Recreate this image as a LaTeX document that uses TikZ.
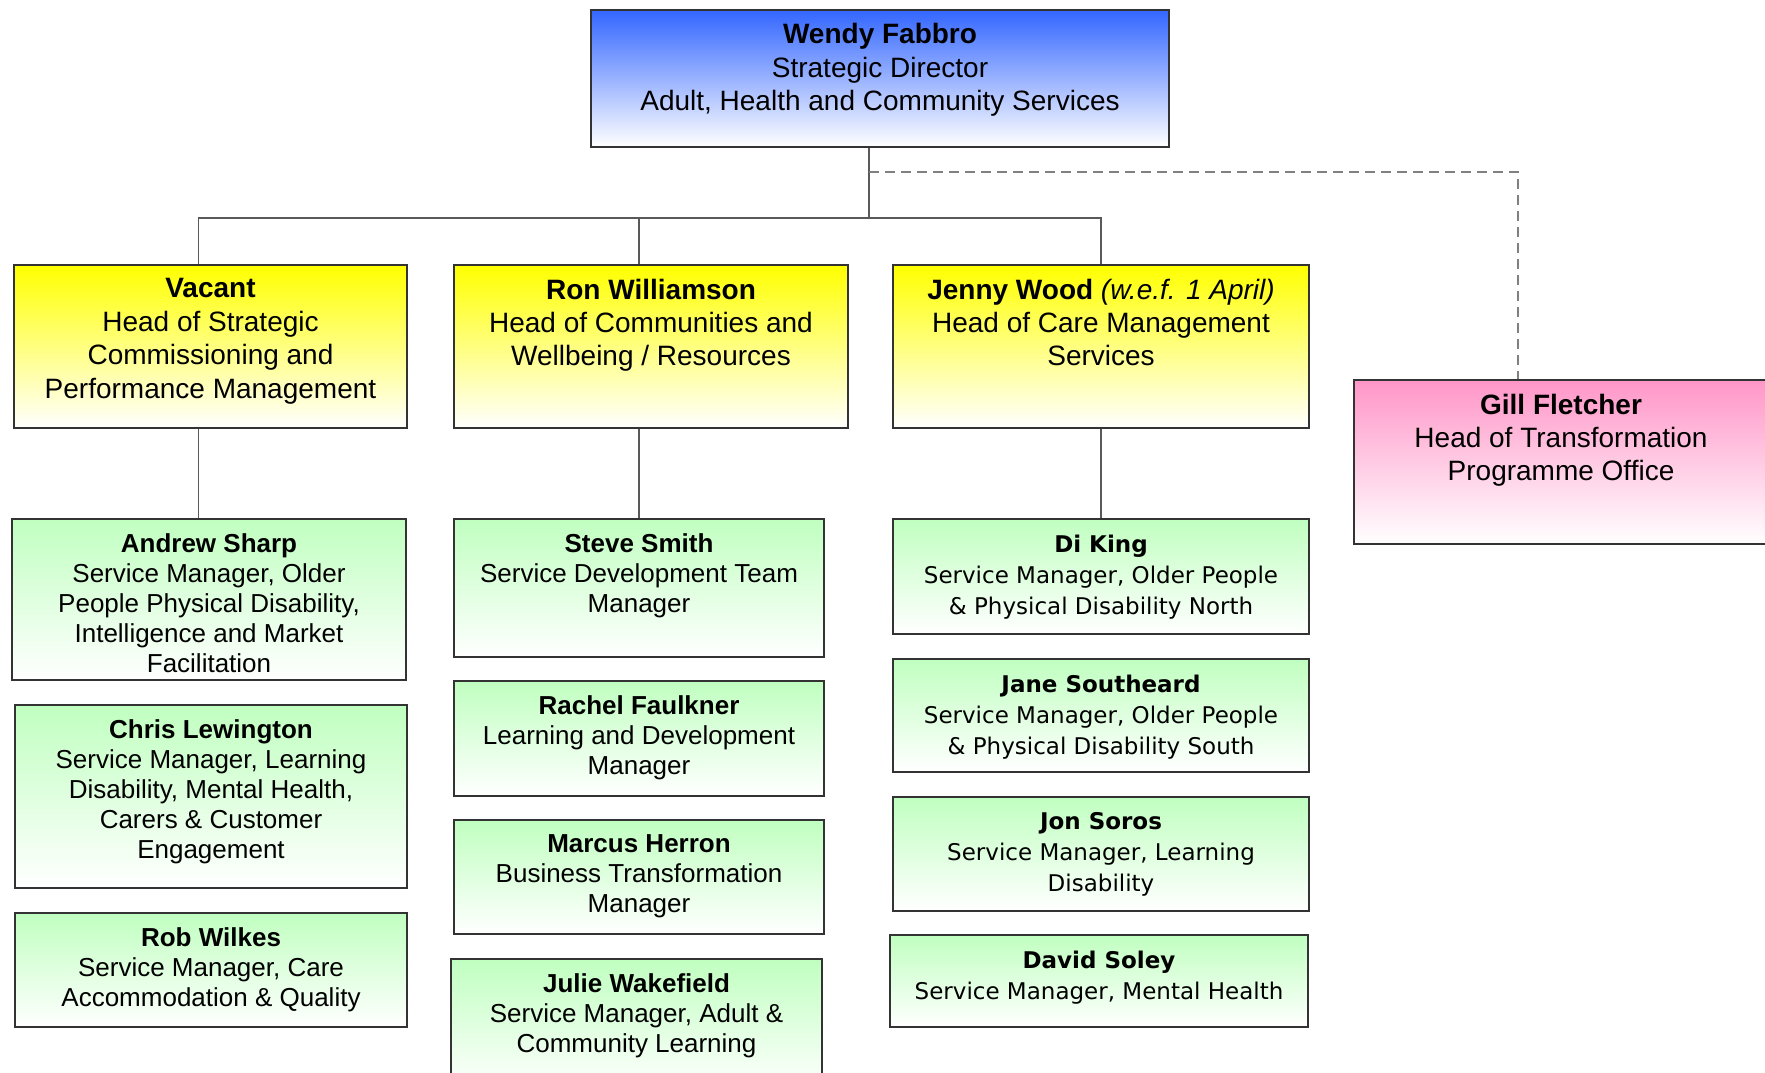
\documentclass[tikz,border=0pt]{standalone}
\usepackage{fontspec}
\setmainfont{Liberation Sans}
\newfontfamily\widefont{DejaVu Sans}
\usetikzlibrary{positioning,fit}

\definecolor{topblue}{RGB}{51,102,255}
\definecolor{headyellow}{RGB}{255,255,0}
\definecolor{greentop}{RGB}{192,255,192}
\definecolor{pinktop}{RGB}{255,150,200}

\tikzset{
  box/.style={draw=black!80, line width=0.7pt, inner sep=0pt},
  topbox/.style={box, top color=topblue, bottom color=white},
  headbox/.style={box, top color=headyellow, bottom color=white},
  pinkbox/.style={box, top color=pinktop, bottom color=white},
  greenbox/.style={box, top color=greentop, bottom color=white},
  txt/.style={inner sep=0pt, align=center, font=\fontsize{14pt}{16.7pt}\selectfont},
  smalltxt/.style={txt, font=\fontsize{13pt}{15pt}\selectfont},
  widetxt/.style={txt, font=\widefont\fontsize{11.5pt}{15.5pt}\selectfont},
  conn/.style={draw=black!65, line width=0.75pt},
  dashconn/.style={draw=black!50, line width=1pt, dash pattern=on 5pt off 3pt},
}

\begin{document}
\begin{tikzpicture}[x=0.5pt, y=-0.5pt]

    \useasboundingbox (0,0) rectangle (1765,1072);

    % Director
    \node[topbox, fit={(591,10) (1169,147)}] (wendy) {};
    \node[txt, below=7pt of wendy.north] (wendyT) {\textbf{Wendy Fabbro}\\Strategic Director\\Adult, Health and Community Services};

    % Heads of service
    \node[headbox, fit={(14,265) (407,428)}] (vacant) {};
    \node[txt, below=7pt of vacant.north] (vacantT) {\textbf{Vacant}\\Head of Strategic\\Commissioning and\\Performance Management};

    \node[headbox, fit={(454,265) (848,428)}] (ron) {};
    \node[txt, below=7pt of ron.north] (ronT) {\textbf{Ron Williamson}\\Head of Communities and\\Wellbeing / Resources};

    \node[headbox, fit={(893,265) (1309,428)}] (jenny) {};
    \node[txt, below=7pt of jenny.north] (jennyT) {\textbf{Jenny Wood} \textit{(w.e.f. 1 April)}\\Head of Care Management\\Services};

    \node[pinkbox, fit={(1354,380) (1768,544)}] (gill) {};
    \node[txt, below=7pt of gill.north] (gillT) {\textbf{Gill Fletcher}\\Head of Transformation\\Programme Office};

    % Service managers, first column
    \node[greenbox, fit={(12,519) (406,680)}] (andrew) {};
    \node[smalltxt, below=7.5pt of andrew.north] (andrewT) {\textbf{Andrew Sharp}\\Service Manager, Older\\People Physical Disability,\\Intelligence and Market\\Facilitation};

    \node[greenbox, fit={(15,705) (407,888)}] (chris) {};
    \node[smalltxt, below=7.5pt of chris.north] (chrisT) {\textbf{Chris Lewington}\\Service Manager, Learning\\Disability, Mental Health,\\Carers \& Customer\\Engagement};

    \node[greenbox, fit={(15,913) (407,1027)}] (rob) {};
    \node[smalltxt, below=7.5pt of rob.north] (robT) {\textbf{Rob Wilkes}\\Service Manager, Care\\Accommodation \& Quality};

    % second column
    \node[greenbox, fit={(454,519) (824,657)}] (steve) {};
    \node[smalltxt, below=7.5pt of steve.north] (steveT) {\textbf{Steve Smith}\\Service Development Team\\Manager};

    \node[greenbox, fit={(454,681) (824,796)}] (rachel) {};
    \node[smalltxt, below=7.5pt of rachel.north] (rachelT) {\textbf{Rachel Faulkner}\\Learning and Development\\Manager};

    \node[greenbox, fit={(454,820) (824,934)}] (marcus) {};
    \node[smalltxt, below=7.5pt of marcus.north] (marcusT) {\textbf{Marcus Herron}\\Business Transformation\\Manager};

    \node[greenbox, fit={(451,959) (822,1090)}] (julie) {};
    \node[smalltxt, below=7.5pt of julie.north] (julieT) {\textbf{Julie Wakefield}\\Service Manager, Adult \&\\Community Learning};

    % third column
    \node[greenbox, fit={(893,519) (1309,634)}] (diking) {};
    \node[widetxt, below=8pt of diking.north] (dikingT) {\textbf{Di King}\\Service Manager, Older People\\\& Physical Disability North};

    \node[greenbox, fit={(893,659) (1309,772)}] (jane) {};
    \node[widetxt, below=8pt of jane.north] (janeT) {\textbf{Jane Southeard}\\Service Manager, Older People\\\& Physical Disability South};

    \node[greenbox, fit={(893,797) (1309,911)}] (jon) {};
    \node[widetxt, below=8pt of jon.north] (jonT) {\textbf{Jon Soros}\\Service Manager, Learning\\Disability};

    \node[greenbox, fit={(890,935) (1308,1027)}] (david) {};
    \node[widetxt, below=8pt of david.north] (davidT) {\textbf{David Soley}\\Service Manager, Mental Health};

    % Reporting lines
    \coordinate (hub) at (869,218);
    \draw[conn] (hub |- wendy.south) -- (hub);
    \draw[conn] (hub) -| ([xshift=-6pt]vacant.north);
    \draw[conn] (hub) -| (steve.north |- ron.north);
    \draw[conn] (hub) -| (jenny.north);

    \draw[conn] ([xshift=-6pt]vacant.south) -- ([xshift=-6pt]vacant.south |- andrew.north);
    \draw[conn] (steve.north |- ron.south) -- (steve.north);
    \draw[conn] (jenny.south) -- (diking.north);

    % Dotted line to the programme office
    \coordinate (dashbend) at (1518,172);
    \draw[dashconn] (hub |- dashbend) -- (dashbend) -- (dashbend |- gill.north);

\end{tikzpicture}
\end{document}
